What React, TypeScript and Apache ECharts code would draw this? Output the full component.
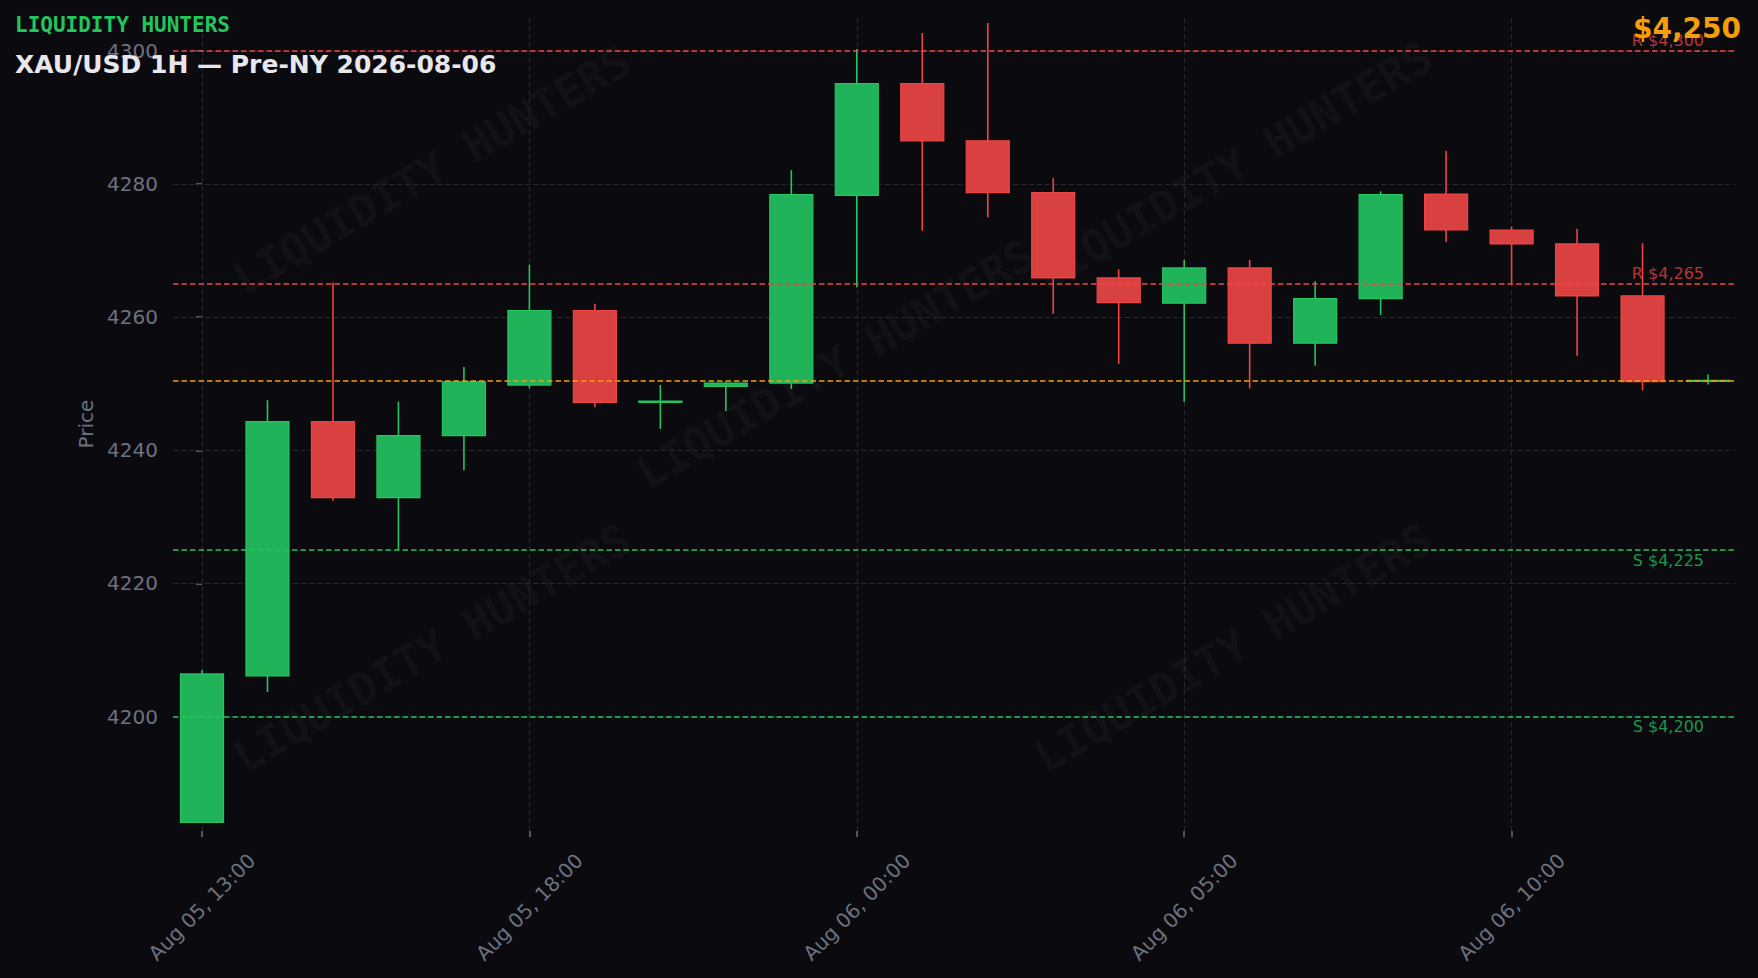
import React, { useEffect, useRef } from "react";
import * as echarts from "echarts";

// ---- data ----
const times = [
  "Aug 05, 13:00", "Aug 05, 14:00", "Aug 05, 15:00", "Aug 05, 16:00", "Aug 05, 17:00",
  "Aug 05, 18:00", "Aug 05, 19:00", "Aug 05, 20:00", "Aug 05, 21:00", "Aug 05, 22:00",
  "Aug 06, 00:00", "Aug 06, 01:00", "Aug 06, 02:00", "Aug 06, 03:00", "Aug 06, 04:00",
  "Aug 06, 05:00", "Aug 06, 06:00", "Aug 06, 07:00", "Aug 06, 08:00", "Aug 06, 09:00",
  "Aug 06, 10:00", "Aug 06, 11:00", "Aug 06, 12:00", "Aug 06, 13:00",
];
const opens = [
  4184.1, 4206.1, 4244.3, 4232.9, 4242.2, 4249.8, 4261.0, 4247.2, 4249.6, 4250.1,
  4278.3, 4295.1, 4286.5, 4278.7, 4265.9, 4262.1, 4267.4, 4256.1, 4262.8, 4278.5,
  4273.1, 4271.0, 4263.2, 4250.4,
];
const closes = [
  4206.4, 4244.3, 4232.9, 4242.2, 4250.3, 4261.0, 4247.2, 4247.4, 4250.1, 4278.4,
  4295.1, 4286.5, 4278.7, 4265.9, 4262.2, 4267.4, 4256.1, 4262.8, 4278.4, 4273.1,
  4271.0, 4263.2, 4250.3, 4250.5,
];
const lows = [
  4184.1, 4203.7, 4232.4, 4225.0, 4237.0, 4249.3, 4246.5, 4243.2, 4245.9, 4249.2,
  4264.5, 4273.0, 4275.0, 4260.5, 4253.0, 4247.3, 4249.3, 4252.7, 4260.3, 4271.3,
  4264.9, 4254.2, 4249.0, 4249.9,
];
const highs = [
  4207.0, 4247.5, 4265.2, 4247.3, 4252.5, 4267.9, 4262.0, 4249.8, 4250.3, 4282.1,
  4300.3, 4302.7, 4304.2, 4280.9, 4267.2, 4268.6, 4268.6, 4265.4, 4278.9, 4285.0,
  4273.6, 4273.3, 4271.1, 4251.4,
];
const resistanceLevels = [4300, 4265];
const supportLevels = [4225, 4200];
const currentPrice = 4250.5;
const yTickValues = [4200, 4220, 4240, 4260, 4280, 4300];
const xTickIndices = [0, 5, 10, 15, 20];

// ---- styles ----
const BG = "#0b0b0f";
const GREEN = "#22c55e";
const GREEN_FILL = "#21b35a";
const RED = "#ef4444";
const RED_FILL = "#d94141";
const ORANGE = "#f59e0b";
const GRAY = "#6b7280";
const GRID = "#272730";
const FONT = "'DejaVu Sans', sans-serif";

const fmt = (v: number) => v.toLocaleString("en-US");

export default function App() {
  const ref = useRef<HTMLDivElement>(null);

  useEffect(() => {
    document.body.style.margin = "0";
    document.body.style.background = BG;
    const chart = echarts.init(ref.current!, null, { renderer: "svg" });

    const candleData = times.map((_, i) => [i, opens[i], closes[i], lows[i], highs[i]]);

    const watermarkPos = [
      [432, 170],
      [1233, 166],
      [835, 364],
      [432, 648],
      [1233, 648],
    ];

    const option: any = {
      animation: false,
      backgroundColor: BG,
      textStyle: { fontFamily: FONT },
      grid: { left: 173, right: 23, top: 17, bottom: 147, containLabel: false, outerBoundsMode: "none" },
      xAxis: {
        type: "value",
        min: -0.443,
        max: 23.412,
        axisLine: { show: false },
        splitLine: { show: false },
        axisTick: {
          show: true,
          customValues: xTickIndices,
          length: 6,
          lineStyle: { color: GRAY, width: 1.5 },
        },
        axisLabel: {
          customValues: xTickIndices,
          formatter: (v: number) => times[Math.round(v)] ?? "",
          rotate: 45,
          align: "center",
          verticalAlign: "middle",
          margin: 76,
          color: GRAY,
          fontSize: 20,
          fontFamily: FONT,
        },
      },
      yAxis: {
        type: "value",
        min: 4182.8,
        max: 4305.1,
        name: "Price",
        nameLocation: "middle",
        nameGap: 77,
        nameTextStyle: { color: GRAY, fontSize: 20, fontFamily: FONT },
        axisLine: { show: false },
        splitLine: { show: false },
        axisTick: {
          show: true,
          customValues: yTickValues,
          length: 6,
          lineStyle: { color: GRAY, width: 1.5 },
        },
        axisLabel: {
          customValues: yTickValues,
          formatter: (v: number) => String(Math.round(v)),
          margin: 15,
          color: GRAY,
          fontSize: 20,
          fontFamily: FONT,
        },
      },
      graphic: [
        ...watermarkPos.map(([x, y]) => ({
          type: "text",
          x,
          y,
          rotation: (30 * Math.PI) / 180,
          z: 1,
          silent: true,
          style: {
            text: "LIQUIDITY HUNTERS",
            fill: "rgba(255,255,255,0.035)",
            font: "bold 44px 'DejaVu Sans Mono', monospace",
            align: "center",
            verticalAlign: "middle",
          },
        })),
        {
          type: "text",
          x: 15,
          y: 25,
          z: 100,
          style: {
            text: "LIQUIDITY HUNTERS",
            fill: GREEN,
            font: "bold 21px 'DejaVu Sans Mono', monospace",
            align: "left",
            verticalAlign: "middle",
          },
        },
        {
          type: "text",
          x: 15,
          y: 64,
          z: 100,
          style: {
            text: "XAU/USD 1H \u2014 Pre-NY 2026-08-06",
            fill: "#e8e8ec",
            font: "bold 25px 'DejaVu Sans', sans-serif",
            align: "left",
            verticalAlign: "middle",
          },
        },
        {
          type: "text",
          x: 1741,
          y: 28,
          z: 100,
          style: {
            text: "$" + fmt(Math.floor(currentPrice)),
            fill: ORANGE,
            font: "bold 28px 'DejaVu Sans', sans-serif",
            align: "right",
            verticalAlign: "middle",
          },
        },
      ],
      series: [
        {
          type: "line",
          data: [],
          z: 1,
          silent: true,
          markLine: {
            z: 1,
            silent: true,
            symbol: ["none", "none"],
            label: { show: false },
            lineStyle: { color: GRID, type: [5, 3], width: 1 },
            data: [
              ...yTickValues.map((v) => ({ yAxis: v })),
              ...xTickIndices.map((v) => ({ xAxis: v })),
            ],
          },
        },
        {
          type: "custom",
          z: 3,
          data: candleData,
          encode: { x: 0, y: [1, 2, 3, 4] },
          renderItem: (params: any, api: any) => {
            const x = api.value(0);
            const o = api.value(1);
            const c = api.value(2);
            const l = api.value(3);
            const h = api.value(4);
            const pO = api.coord([x, o]);
            const pC = api.coord([x, c]);
            const pL = api.coord([x, l]);
            const pH = api.coord([x, h]);
            const w = api.size([1, 0])[0] * 0.657;
            const up = c >= o;
            const edge = up ? GREEN : RED;
            const fill = up ? GREEN_FILL : RED_FILL;
            const top = Math.min(pO[1], pC[1]);
            const bh = Math.max(Math.abs(pO[1] - pC[1]), 1);
            return {
              type: "group",
              children: [
                {
                  type: "line",
                  shape: { x1: pH[0], y1: pH[1], x2: pL[0], y2: pL[1] },
                  style: { stroke: edge, lineWidth: 1.6 },
                },
                {
                  type: "rect",
                  shape: { x: pO[0] - w / 2, y: top, width: w, height: bh },
                  style: { fill, stroke: edge, lineWidth: 1.2 },
                },
              ],
            };
          },
        },
        {
          type: "line",
          data: [],
          z: 5,
          silent: true,
          markLine: {
            z: 6,
            silent: true,
            symbol: ["none", "none"],
            data: [
              ...resistanceLevels.map((v) => ({
                yAxis: v,
                lineStyle: { color: RED, type: [5.5, 3], width: 1.5 },
                label: {
                  show: true,
                  position: "insideEndTop",
                  distance: [31, 2],
                  formatter: "R $" + fmt(v),
                  color: "rgba(239,68,68,0.75)",
                  fontSize: 16,
                  fontFamily: FONT,
                },
              })),
              ...supportLevels.map((v) => ({
                yAxis: v,
                lineStyle: { color: GREEN, type: [5.5, 3], width: 1.5 },
                label: {
                  show: true,
                  position: "insideEndBottom",
                  distance: [31, 2],
                  formatter: "S $" + fmt(v),
                  color: "rgba(34,197,94,0.75)",
                  fontSize: 16,
                  fontFamily: FONT,
                },
              })),
              {
                yAxis: currentPrice,
                lineStyle: { color: ORANGE, type: [5.5, 3], width: 1.5 },
                label: { show: false },
              },
            ],
          },
        },
      ],
    };

    chart.setOption(option);
    return () => chart.dispose();
  }, []);

  return <div ref={ref} style={{ width: 1758, height: 978, background: BG }} />;
}
